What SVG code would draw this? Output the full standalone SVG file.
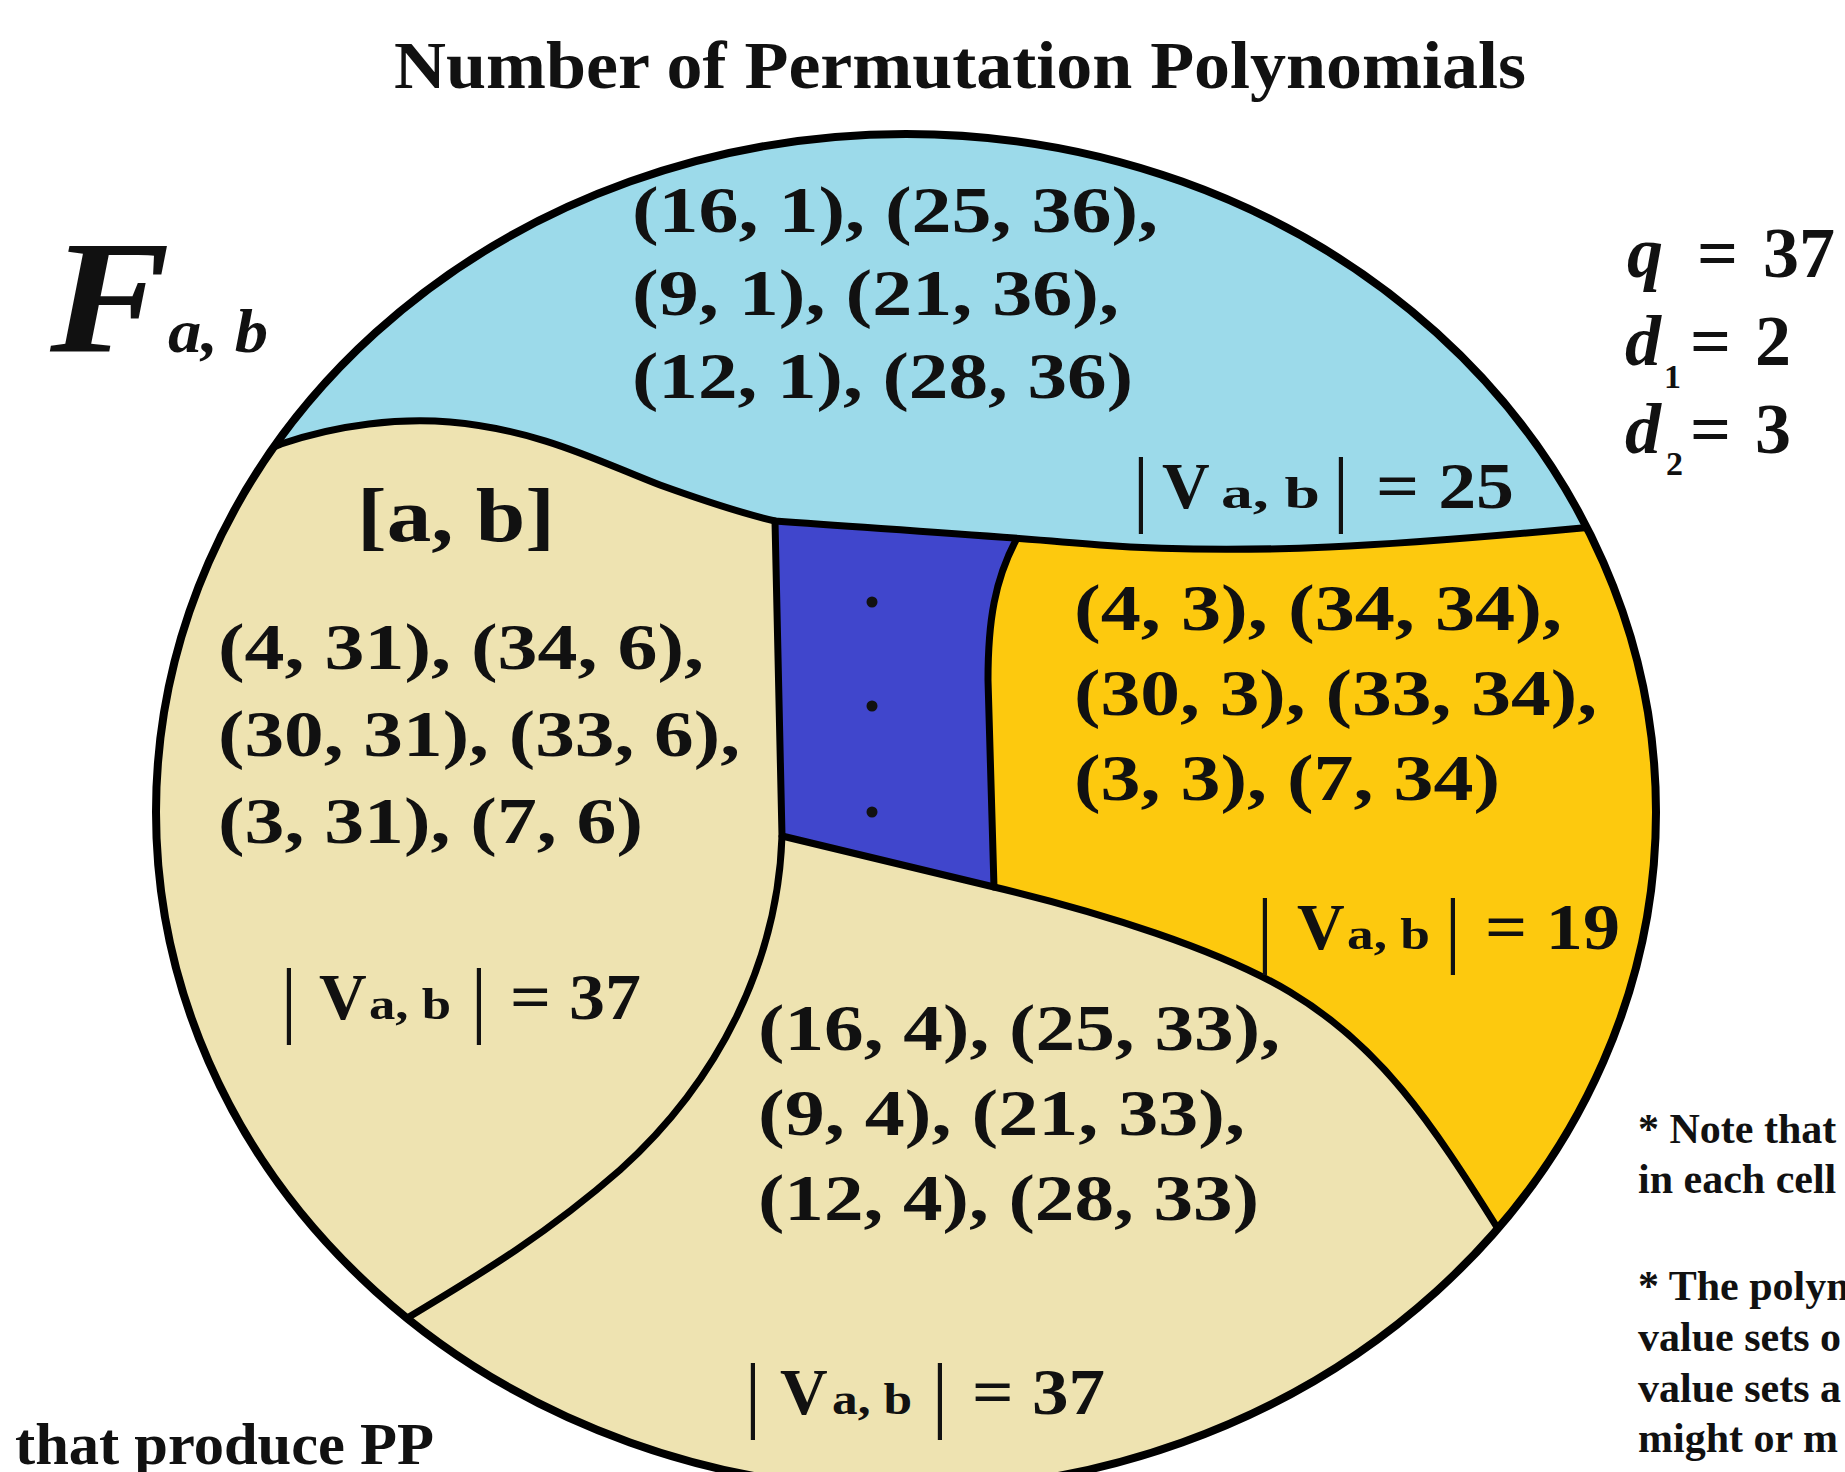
<svg xmlns="http://www.w3.org/2000/svg" width="1845" height="1472" viewBox="0 0 1845 1472">
<defs>
<clipPath id="ell"><ellipse cx="906" cy="812" rx="750" ry="678"/></clipPath>
<style>
.t{font-family:"Liberation Serif","Times New Roman",serif;font-weight:bold;fill:#111;}
.n{font-size:66px;}
.sub{font-size:44px;}
.bar{font-family:"Liberation Serif","Times New Roman",serif;font-weight:normal;font-size:84px;fill:#111;}
.div{fill:none;stroke:#000;stroke-width:7;stroke-linejoin:round;stroke-linecap:round;}
.note{font-size:42px;}
.dot{fill:#111;}
</style>
</defs>
<rect width="1845" height="1472" fill="#fff"/>

<g id="title">
<text class="t" x="394" y="88" font-size="68" textLength="1132" lengthAdjust="spacingAndGlyphs">Number of Permutation Polynomials</text>
</g>

<g id="field-label">
<text class="t" x="50" y="352" font-size="160" font-style="italic" textLength="120" lengthAdjust="spacingAndGlyphs">F</text>
<text class="t" x="168" y="352" font-size="62" font-style="italic" textLength="100" lengthAdjust="spacingAndGlyphs">a, b</text>
</g>

<g id="params">
<text class="t" y="277" font-size="72"><tspan x="1627" font-style="italic">q</tspan><tspan x="1697">=</tspan><tspan x="1763">37</tspan></text>
<text class="t" y="365" font-size="72"><tspan x="1625" font-style="italic">d</tspan><tspan x="1690">=</tspan><tspan x="1755">2</tspan></text>
<text class="t" x="1664" y="388" font-size="34">1</text>
<text class="t" y="453" font-size="72"><tspan x="1625" font-style="italic">d</tspan><tspan x="1690">=</tspan><tspan x="1755">3</tspan></text>
<text class="t" x="1666" y="475" font-size="34">2</text>
</g>

<g id="regions" clip-path="url(#ell)">
<ellipse id="region-beige" cx="906" cy="812" rx="750" ry="678" fill="#EEE3B1"/>
<path id="region-yellow" d="M1016,500 L1760,500 L1760,1300 L1500,1232 C1430,1120 1380,1046 1290,992 C1220,950 1100,912 994,887 L988,680 C988,620 995,580 1016,540 Z" fill="#FDC90E"/>
<path id="region-darkblue" d="M775,500 L1016,500 L1016,540 C995,580 988,620 988,680 L994,887 L782,836 Z" fill="#4046CC"/>
<path id="region-blue" d="M120,444 L281,444 C340,424 400,418 450,422 C540,430 600,462 660,485 C710,503 745,514 775,521 C900,530 1000,536 1100,545 C1250,556 1400,545 1582,528 L1700,520 L1700,80 L120,80 Z" fill="#9CDAEA"/>
</g>

<g id="connectors" clip-path="url(#ell)">
<path class="div" d="M262,452 L281,444 C340,424 400,418 450,422 C540,430 600,462 660,485 C710,503 745,514 775,521 C900,530 1000,536 1100,545 C1250,556 1400,545 1582,528 L1610,526"/>
<path class="div" d="M775,521 L782,836 C778,960 720,1080 620,1170 C540,1240 470,1280 404,1320 L385,1334"/>
<path class="div" d="M1016,540 C995,580 988,620 988,680 L994,887"/>
<path class="div" d="M782,836 L994,887 C1100,912 1220,950 1290,992 C1380,1046 1430,1120 1500,1232 L1512,1252"/>
</g>
<ellipse id="outline" cx="906" cy="812" rx="750" ry="678" fill="none" stroke="#000" stroke-width="8"/>

<g id="cell-top">
<text class="t n" x="632" y="232" textLength="526" lengthAdjust="spacingAndGlyphs">(16, 1), (25, 36),</text>
<text class="t n" x="632" y="315" textLength="487" lengthAdjust="spacingAndGlyphs">(9, 1), (21, 36),</text>
<text class="t n" x="632" y="398" textLength="501" lengthAdjust="spacingAndGlyphs">(12, 1), (28, 36)</text>
<text class="bar" x="1141" y="516" text-anchor="middle">|</text>
<text class="t n" x="1162" y="508">V</text>
<text class="t sub" x="1221" y="508" textLength="99" lengthAdjust="spacingAndGlyphs">a, b</text>
<text class="bar" x="1341" y="516" text-anchor="middle">|</text>
<text class="t n" x="1376" y="508" textLength="138" lengthAdjust="spacingAndGlyphs">= 25</text>
</g>

<g id="cell-left">
<text class="t" x="357" y="541" font-size="76" textLength="198" lengthAdjust="spacingAndGlyphs">[a, b]</text>
<text class="t n" x="218" y="669" textLength="486" lengthAdjust="spacingAndGlyphs">(4, 31), (34, 6),</text>
<text class="t n" x="218" y="756" textLength="522" lengthAdjust="spacingAndGlyphs">(30, 31), (33, 6),</text>
<text class="t n" x="218" y="843" textLength="425" lengthAdjust="spacingAndGlyphs">(3, 31), (7, 6)</text>
<text class="bar" x="289" y="1027" text-anchor="middle">|</text>
<text class="t n" x="319" y="1019">V</text>
<text class="t sub" x="369" y="1019" textLength="82" lengthAdjust="spacingAndGlyphs">a, b</text>
<text class="bar" x="479" y="1027" text-anchor="middle">|</text>
<text class="t n" x="510" y="1019" textLength="131" lengthAdjust="spacingAndGlyphs">= 37</text>
</g>

<g id="cell-middle">
<circle class="dot" cx="872" cy="602" r="5.5"/>
<circle class="dot" cx="872" cy="706" r="5.5"/>
<circle class="dot" cx="872" cy="812" r="5.5"/>
</g>

<g id="cell-right">
<text class="t n" x="1074" y="630" textLength="488" lengthAdjust="spacingAndGlyphs">(4, 3), (34, 34),</text>
<text class="t n" x="1074" y="715" textLength="523" lengthAdjust="spacingAndGlyphs">(30, 3), (33, 34),</text>
<text class="t n" x="1074" y="800" textLength="426" lengthAdjust="spacingAndGlyphs">(3, 3), (7, 34)</text>
<text class="bar" x="1265" y="957" text-anchor="middle">|</text>
<text class="t n" x="1297" y="949">V</text>
<text class="t sub" x="1347" y="949" textLength="83" lengthAdjust="spacingAndGlyphs">a, b</text>
<text class="bar" x="1453" y="957" text-anchor="middle">|</text>
<text class="t n" x="1485" y="949" textLength="135" lengthAdjust="spacingAndGlyphs">= 19</text>
</g>

<g id="cell-bottom">
<text class="t n" x="758" y="1050" textLength="522" lengthAdjust="spacingAndGlyphs">(16, 4), (25, 33),</text>
<text class="t n" x="758" y="1135" textLength="487" lengthAdjust="spacingAndGlyphs">(9, 4), (21, 33),</text>
<text class="t n" x="758" y="1220" textLength="501" lengthAdjust="spacingAndGlyphs">(12, 4), (28, 33)</text>
<text class="bar" x="753" y="1422" text-anchor="middle">|</text>
<text class="t n" x="780" y="1414">V</text>
<text class="t sub" x="832" y="1414" textLength="80" lengthAdjust="spacingAndGlyphs">a, b</text>
<text class="bar" x="940" y="1422" text-anchor="middle">|</text>
<text class="t n" x="972" y="1414" textLength="133" lengthAdjust="spacingAndGlyphs">= 37</text>
</g>

<g id="caption">
<text class="t" x="15" y="1464" font-size="60" textLength="419" lengthAdjust="spacingAndGlyphs">that produce PP</text>
</g>

<g id="notes">
<text class="t note" x="1638" y="1143">* Note that</text>
<text class="t note" x="1638" y="1193">in each cell</text>
<text class="t note" x="1638" y="1300">* The polyn</text>
<text class="t note" x="1638" y="1351">value sets o</text>
<text class="t note" x="1638" y="1402">value sets a</text>
<text class="t note" x="1638" y="1452">might or m</text>
</g>
</svg>
